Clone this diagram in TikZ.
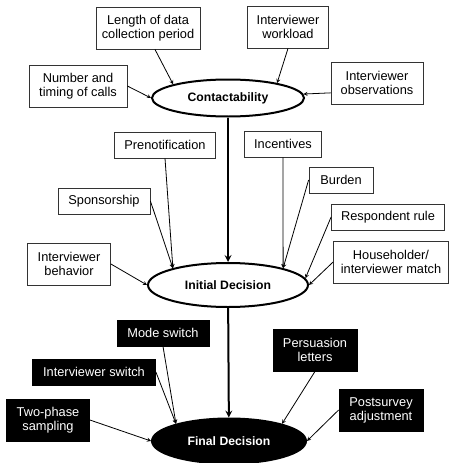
\documentclass[tikz,border=0pt]{standalone}
\usepackage{fontspec}
\setmainfont{Liberation Sans}
\usepackage{tikz}
\usetikzlibrary{shapes.geometric}

\begin{document}
\begin{tikzpicture}[x=1pt, y=-1pt, >=stealth,
  cause/.style={shape=rectangle, draw=black!80, line width=0.8pt, fill=white, align=center,
    font=\fontsize{12.8}{14}\selectfont, inner xsep=3pt, inner ysep=2pt, minimum height=26pt},
  lever/.style={cause, draw=black, fill=black, text=white},
  tall/.style={minimum height=42pt},
  stage/.style={shape=ellipse, draw=black, line width=2pt, font=\fontsize{12.2}{14}\selectfont\bfseries}]
\useasboundingbox (0,0) rectangle (450,463);
\node[stage, minimum width=152pt, minimum height=37pt] (C) at (228,98) {Contactability};
\node[stage, minimum width=160pt, minimum height=44pt] (I) at (228,285) {Initial Decision};
\node[stage, fill=black, text=white, minimum width=154pt, minimum height=45pt] (F) at (229,441) {Final Decision};
% contact factors
\node[cause, tall, minimum width=104pt] (len) at (148,28) {Length of data\\collection period};
\node[cause, tall, minimum width=81pt] (wl) at (288,27) {Interviewer\\workload};
\node[cause, tall, minimum width=98pt] (num) at (78,86) {Number and\\timing of calls};
\node[cause, tall, minimum width=92pt] (obs) at (377,83) {Interviewer\\observations};
% initial decision factors
\node[cause, minimum width=101pt] (pre) at (165,145) {Prenotification};
\node[cause, minimum width=77pt] (inc) at (283,144) {Incentives};
\node[cause, minimum width=64pt] (bur) at (341,180) {Burden};
\node[cause, minimum width=92pt] (spo) at (104,201) {Sponsorship};
\node[cause, minimum width=113pt] (rr) at (388,217) {Respondent rule};
\node[cause, tall, minimum width=83pt] (ib) at (69,264) {Interviewer\\behavior};
\node[cause, tall, minimum width=115pt] (hm) at (391,262) {Householder/\\interviewer match};
% final decision tools
\node[lever, minimum width=92pt] (ms) at (163,333) {Mode switch};
\node[lever, minimum width=123pt] (is) at (94,372) {Interviewer switch};
\node[lever, tall, minimum width=83pt] (tp) at (48,420) {Two-phase\\sampling};
\node[lever, tall, minimum width=84pt] (pl) at (315,350) {Persuasion\\letters};
\node[lever, tall, minimum width=84pt] (pa) at (381,410) {Postsurvey\\adjustment};
\draw[->, line width=2pt] (C) -- (I);
\draw[->, line width=2pt] (I) -- (F);
\draw[->, line width=0.8pt] (len.-72) -- (C.166);
\draw[->, line width=0.8pt] (wl.south) -- (C.17);
\draw[->, line width=0.8pt] (num.east) -- (C.west);
\draw[->, line width=0.8pt] (obs.192) -- (C.3);
\draw[->, line width=0.8pt] (pre.south) -- (I.163);
\draw[->, line width=0.8pt] (spo.east) -- (I.163);
\draw[->, line width=0.8pt] (ib.east) -- (I.west);
\draw[->, line width=0.8pt] (inc.south) -- (I.17);
\draw[->, line width=0.8pt] (bur.west) -- (I.17);
\draw[->, line width=0.8pt] (rr.west) -- (I.5);
\draw[->, line width=0.8pt] (hm.west) -- (I.east);
\draw[->, line width=0.8pt] (ms.south) -- (F.162);
\draw[->, line width=0.8pt] (is.east) -- (F.162);
\draw[->, line width=0.8pt] (tp.east) -- (F.west);
\draw[->, line width=0.8pt] (pl.south) -- (F.18);
\draw[->, line width=0.8pt] (pa.west) -- (F.east);
\end{tikzpicture}
\end{document}
